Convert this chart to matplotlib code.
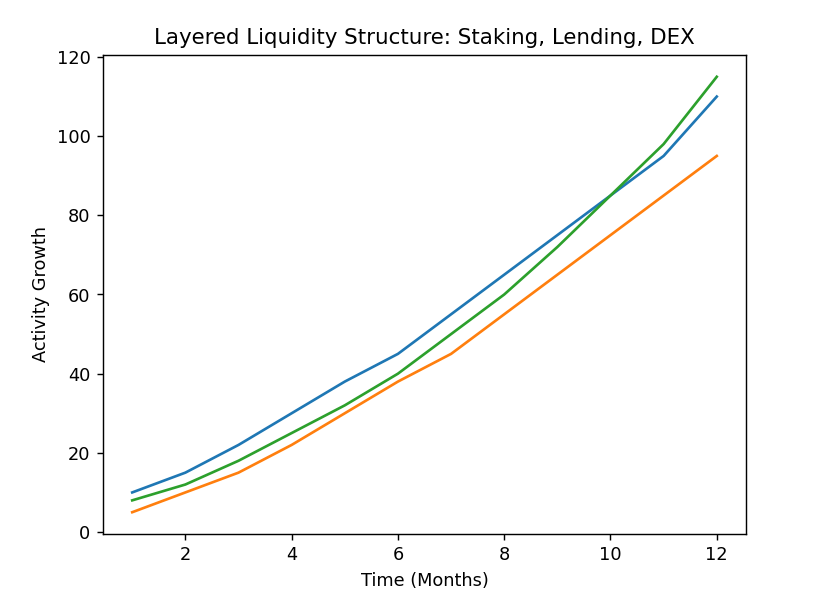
import numpy as np
import matplotlib
matplotlib.use("Agg")
import matplotlib.pyplot as plt

months = [1, 2, 3, 4, 5, 6, 7, 8, 9, 10, 11, 12]
staking = [10, 15, 22, 30, 38, 45, 55, 65, 75, 85, 95, 110]
lending = [5, 10, 15, 22, 30, 38, 45, 55, 65, 75, 85, 95]
dex = [8, 12, 18, 25, 32, 40, 50, 60, 72, 85, 98, 115]

DPI = 128
fig, ax = plt.subplots(figsize=(829 / DPI, 596 / DPI), dpi=DPI)
fig.subplots_adjust(left=103 / 829, right=746 / 829, bottom=1 - 534 / 596, top=1 - 55 / 596)

ax.plot(months, staking, color="#1f77b4", label="Staking")
ax.plot(months, lending, color="#ff7f0e", label="Lending")
ax.plot(months, dex, color="#2ca02c", label="DEX")

ax.set_title("Layered Liquidity Structure: Staking, Lending, DEX")
ax.set_xlabel("Time (Months)")
ax.set_ylabel("Activity Growth")

fig.savefig("out.png", dpi=DPI)
